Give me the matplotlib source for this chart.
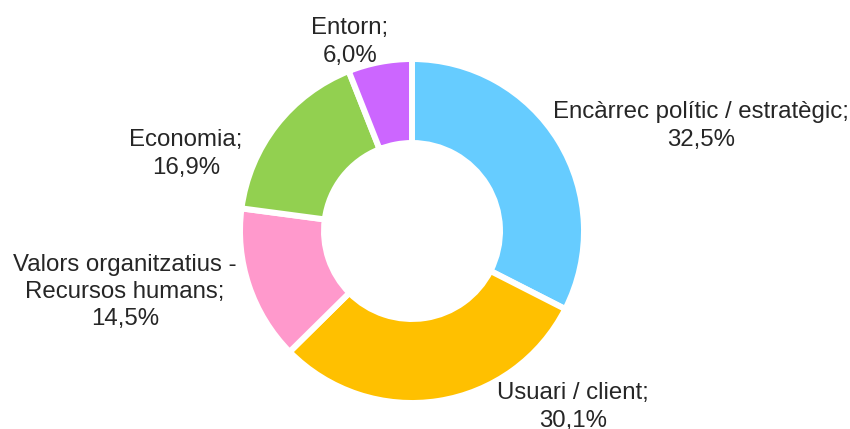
import matplotlib.pyplot as plt

plt.rcParams['font.family'] = ['Liberation Sans', 'DejaVu Sans']

labels = ["Encàrrec polític / estratègic", "Usuari / client",
          "Valors organitzatius -\nRecursos humans", "Economia", "Entorn"]
values = [32.5, 30.1, 14.5, 16.9, 6.0]
colors = ["#66CCFF", "#FFC000", "#FF99CC", "#92D050", "#CC66FF"]

# label anchor positions in pixel space (x, y from top)
label_pos = [(701, 126), (573, 407), (125, 292), (186, 154), (350, 42)]

fig = plt.figure(figsize=(8.5, 4.29), dpi=100)
ax = fig.add_axes([0, 0, 1, 1])

cx, cy, r = 412, 429 - 231, 172
ax.pie(values, colors=colors, startangle=90, counterclock=False,
       center=(cx, cy), radius=r,
       wedgeprops=dict(width=84, edgecolor='white', linewidth=4.3),
       frame=True)
ax.set_xlim(0, 850)
ax.set_ylim(0, 429)
ax.set_aspect('equal')
ax.axis('off')

for lab, v, (x, y) in zip(labels, values, label_pos):
    txt = f"{lab};\n{v:.1f}%".replace('.', ',')
    ax.text(x, 429 - y, txt, ha='center', va='center', fontsize=17.3,
            color='#262626', linespacing=1.3)

fig.savefig("out.png", dpi=100)
